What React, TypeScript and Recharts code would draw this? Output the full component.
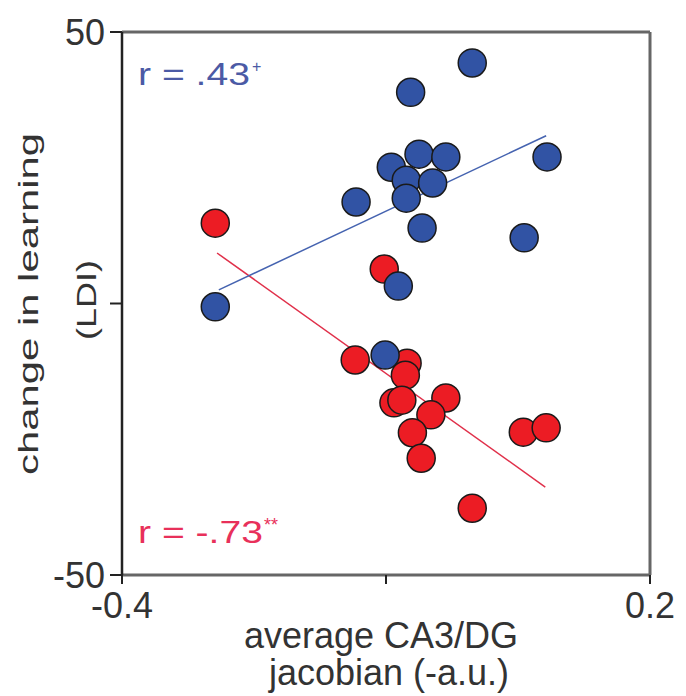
import { ReferenceLine, Scatter, ScatterChart, XAxis, YAxis } from "recharts";

// CA3/DG jacobian vs change in learning, two groups
const blueX = [-0.294, -0.134, -0.072, -0.002, -0.094, -0.0625, -0.032, -0.077, -0.047, -0.077, -0.059, 0.083, 0.057, -0.086, -0.101];
const blueY = [-0.6, 18.7, 38.9, 44.3, 25.1, 27.5, 27.0, 22.7, 22.2, 19.4, 13.9, 27.0, 12.1, 3.2, -9.5];

const redX = [-0.294, -0.102, -0.135, -0.076, -0.078, -0.091, -0.082, -0.032, -0.049, -0.07, -0.06, 0.056, 0.082, -0.002];
const redY = [14.8, 6.35, -10.4, -11.0, -13.2, -18.3, -17.8, -17.4, -20.5, -23.8, -28.5, -23.7, -22.9, -37.7];

// regression line end points
const blueFitX = [-0.29, 0.082];
const blueFitY = [2.5, 30.9];
const redFitX = [-0.292, 0.081];
const redFitY = [9.3, -33.8];

const xTicks = [-0.4, -0.1, 0.2];
const xTickLabels = ["-0.4", "", "0.2"];
const yTicks = [-50, 0, 50];
const yTickLabels = ["-50", "", "50"];

const FONT = "'Liberation Sans', Arial, sans-serif";
const BLUE = "#3153a4";
const RED = "#ec1c24";

const blueData = blueX.map((x, i) => ({ x, y: blueY[i] }));
const redData = redX.map((x, i) => ({ x, y: redY[i] }));

function dot(fill: string) {
    return (p: any) => (
        <circle cx={p.cx} cy={p.cy} r={14} fill={fill} stroke="#1a1a1a" strokeWidth={1.5} />
    );
}

export default function App() {
    return (
        <div style={{ position: "absolute", left: 0, top: 0, width: 686, height: 696, background: "#fff" }}>
            <ScatterChart width={686} height={696} margin={{ top: 32, right: 36, bottom: 81, left: 12 }}>
                <XAxis
                    type="number"
                    dataKey="x"
                    domain={[-0.4, 0.2]}
                    ticks={xTicks}
                    allowDataOverflow
                    height={40}
                    tickSize={9}
                    tickMargin={8}
                    tickFormatter={(v: number) => xTickLabels[xTicks.indexOf(v)] ?? ""}
                    axisLine={{ stroke: "#666", strokeWidth: 3 }}
                    tickLine={{ stroke: "#222", strokeWidth: 2 }}
                    tick={{ fill: "#333", fontSize: 36, fontFamily: FONT }}
                />
                <YAxis
                    type="number"
                    dataKey="y"
                    domain={[-50, 50]}
                    ticks={yTicks}
                    allowDataOverflow
                    width={110}
                    tickSize={12}
                    tickMargin={5}
                    tickFormatter={(v: number) => yTickLabels[yTicks.indexOf(v)] ?? ""}
                    axisLine={{ stroke: "#222", strokeWidth: 2.5 }}
                    tickLine={{ stroke: "#222", strokeWidth: 2 }}
                    tick={{ fill: "#333", fontSize: 36, fontFamily: FONT }}
                />
                <ReferenceLine y={50} stroke="#666" strokeWidth={3} />
                <ReferenceLine x={0.2} stroke="#666" strokeWidth={3} />
                <ReferenceLine
                    segment={[
                        { x: redFitX[0], y: redFitY[0] },
                        { x: redFitX[1], y: redFitY[1] },
                    ]}
                    stroke="#e0304a"
                    strokeWidth={1.5}
                />
                <ReferenceLine
                    segment={[
                        { x: blueFitX[0], y: blueFitY[0] },
                        { x: blueFitX[1], y: blueFitY[1] },
                    ]}
                    stroke="#4563b0"
                    strokeWidth={1.5}
                />
                <Scatter data={redData} shape={dot(RED)} isAnimationActive={false} />
                <Scatter data={blueData} shape={dot(BLUE)} isAnimationActive={false} />
            </ScatterChart>
            <svg
                width={686}
                height={696}
                style={{ position: "absolute", left: 0, top: 0, pointerEvents: "none" }}
                fontFamily={FONT}
            >
                <text x={138} y={85} fontSize={31} fill="#4b5aa5" textLength={112} lengthAdjust="spacingAndGlyphs">
                    r = .43
                </text>
                <text x={252} y={72} fontSize={16} fill="#4b5aa5">
                    +
                </text>
                <text x={138} y={543} fontSize={31} fill="#e8305a" textLength={125} lengthAdjust="spacingAndGlyphs">
                    r = -.73
                </text>
                <text x={264} y={531} fontSize={18} fill="#e8305a">
                    **
                </text>
                <text x={381} y={648} fontSize={36} fill="#333" textAnchor="middle">
                    average CA3/DG
                </text>
                <text x={389} y={685} fontSize={36} fill="#333" textAnchor="middle">
                    jacobian (-a.u.)
                </text>
                <text
                    transform="rotate(-90)"
                    x={-304}
                    y={38}
                    fontSize={28}
                    fill="#333"
                    textAnchor="middle"
                    textLength={342}
                    lengthAdjust="spacingAndGlyphs"
                >
                    change in learning
                </text>
                <text
                    transform="rotate(-90)"
                    x={-300}
                    y={96}
                    fontSize={28}
                    fill="#333"
                    textAnchor="middle"
                    textLength={80}
                    lengthAdjust="spacingAndGlyphs"
                >
                    (LDI)
                </text>
            </svg>
        </div>
    );
}
